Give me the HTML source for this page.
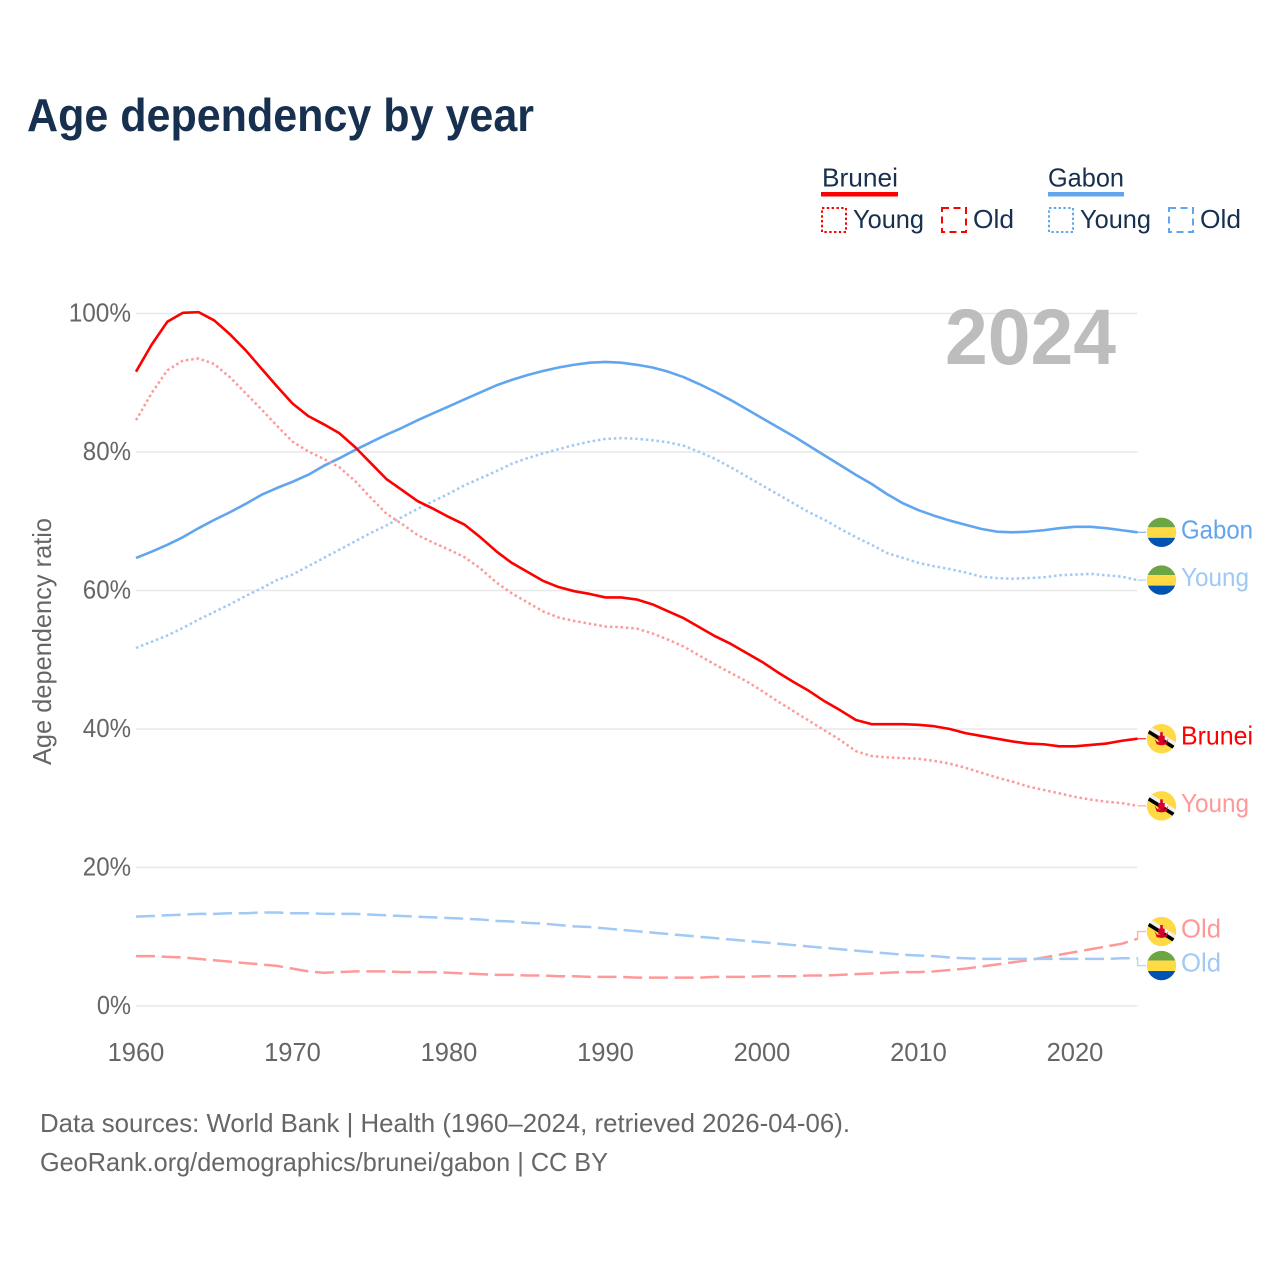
<!DOCTYPE html>
<html lang="en">
<head>
<meta charset="utf-8">
<title>Age dependency by year</title>
<style>
html,body{margin:0;padding:0;background:#fff;width:1280px;height:1280px;overflow:hidden}
svg{display:block}
text{font-family:"Liberation Sans",sans-serif}
</style>
</head>
<body>
<svg id="chart" xmlns="http://www.w3.org/2000/svg" width="1280" height="1280" viewBox="0 0 1280 1280">
  <defs>
    <clipPath id="flag-clip"><circle cx="0" cy="0" r="14.7"/></clipPath>
    <g id="flag-gabon" clip-path="url(#flag-clip)">
      <rect x="-16" y="-16" width="32" height="11" fill="#6da544"/>
      <rect x="-16" y="-5" width="32" height="10.5" fill="#ffda44"/>
      <rect x="-16" y="5.5" width="32" height="11" fill="#0052b4"/>
    </g>
    <g id="flag-brunei" clip-path="url(#flag-clip)">
      <rect x="-16" y="-16" width="32" height="32" fill="#ffda44"/>
      <line x1="-16" y1="-13" x2="16" y2="7" stroke="#f0f0f0" stroke-width="4"/>
      <line x1="-16" y1="-9" x2="16" y2="11" stroke="#000" stroke-width="3.6"/>
      <rect x="-1.3" y="-6.5" width="2.6" height="11" fill="#d80027"/>
      <rect x="-3.2" y="-3" width="6.4" height="6" fill="#d80027"/>
      <path d="M-7 -0.5 Q0 11 7 -0.5 L5 5 Q0 8 -5 5 Z" fill="#d80027"/>
      <rect x="-5" y="3.4" width="10" height="2.4" fill="#d80027"/>
    </g>
  </defs>

  <text x="27" y="131" font-size="46" font-weight="700" fill="#17304f" textLength="507" lengthAdjust="spacingAndGlyphs">Age dependency by year</text>

  <g font-size="26" fill="#17304f">
    <text x="822" y="186.5" textLength="76" lengthAdjust="spacingAndGlyphs">Brunei</text>
    <rect x="821" y="192" width="77" height="4.5" fill="#ff0000"/>
    <text x="1048" y="186.5" textLength="76" lengthAdjust="spacingAndGlyphs">Gabon</text>
    <rect x="1048" y="192" width="76" height="4.5" fill="#60a5ee"/>

    <rect x="822" y="208" width="24" height="24" fill="none" stroke="#ff0000" stroke-width="2" stroke-dasharray="2.4 2.4"/>
    <text x="853" y="228" textLength="71" lengthAdjust="spacingAndGlyphs">Young</text>
    <rect x="942" y="208" width="24" height="24" fill="none" stroke="#ff0000" stroke-width="2" stroke-dasharray="7 4.5"/>
    <text x="973" y="228" textLength="41" lengthAdjust="spacingAndGlyphs">Old</text>

    <rect x="1049" y="208" width="24" height="24" fill="none" stroke="#60a5ee" stroke-width="2" stroke-dasharray="2.4 2.4"/>
    <text x="1080" y="228" textLength="71" lengthAdjust="spacingAndGlyphs">Young</text>
    <rect x="1169" y="208" width="24" height="24" fill="none" stroke="#60a5ee" stroke-width="2" stroke-dasharray="7 4.5"/>
    <text x="1200" y="228" textLength="41" lengthAdjust="spacingAndGlyphs">Old</text>
  </g>

  <g id="grid"></g>
  <text x="945" y="364" font-size="79" font-weight="700" fill="#bdbdbd" textLength="171" lengthAdjust="spacingAndGlyphs">2024</text>
  <g id="y-ticks" font-size="25.5" fill="#666"></g>
  <g id="x-ticks" font-size="25.5" fill="#666"></g>
  <text transform="translate(51 765) rotate(-90)" font-size="26" fill="#666" textLength="247" lengthAdjust="spacingAndGlyphs">Age dependency ratio</text>
  <g id="series"></g>
  <g id="labels"></g>

  <text x="40" y="1132" font-size="26" fill="#666" textLength="810" lengthAdjust="spacingAndGlyphs">Data sources: World Bank | Health (1960–2024, retrieved 2026-04-06).</text>
  <text x="40" y="1171" font-size="26" fill="#666" textLength="568" lengthAdjust="spacingAndGlyphs">GeoRank.org/demographics/brunei/gabon | CC BY</text>
</svg>

<script>
const firstYear = 1960;
const xTickLabels = [1960, 1970, 1980, 1990, 2000, 2010, 2020];
const yTickLabels = [0, 20, 40, 60, 80, 100];

const bruneiTotal = [91.6,95.5,98.8,100.1,100.2,99,97,94.7,92.1,89.5,87,85.2,84,82.7,80.7,78.4,76.1,74.5,72.9,71.8,70.6,69.5,67.7,65.7,64,62.7,61.4,60.5,59.9,59.5,59,59,58.7,58,57,56,54.7,53.4,52.3,51,49.7,48.2,46.8,45.5,44,42.7,41.3,40.7,40.7,40.7,40.6,40.4,40,39.4,39,38.6,38.2,37.9,37.8,37.5,37.5,37.7,37.9,38.3,38.6];
const bruneiYoung = [84.6,88.5,91.8,93.2,93.5,92.7,90.8,88.5,86.2,83.8,81.5,80.1,79,77.8,75.8,73.4,71.1,69.6,68,66.9,65.9,64.8,63.2,61.2,59.6,58.3,57,56.1,55.6,55.2,54.8,54.7,54.5,53.8,52.9,51.9,50.6,49.3,48.1,46.9,45.5,44,42.6,41.2,39.8,38.4,36.8,36.1,35.9,35.8,35.7,35.4,35,34.4,33.7,33,32.4,31.7,31.2,30.7,30.2,29.8,29.5,29.3,28.9];
const bruneiOld = [7.2,7.2,7.1,7,6.8,6.6,6.4,6.2,6,5.8,5.4,5,4.8,4.9,5,5,5,4.9,4.9,4.9,4.8,4.7,4.6,4.5,4.5,4.4,4.4,4.3,4.3,4.2,4.2,4.2,4.1,4.1,4.1,4.1,4.1,4.2,4.2,4.2,4.3,4.3,4.3,4.4,4.4,4.5,4.6,4.7,4.8,4.9,4.9,5,5.2,5.4,5.7,6,6.3,6.6,7,7.4,7.8,8.2,8.6,9,9.7];
const gabonTotal = [64.7,65.6,66.6,67.7,69,70.2,71.3,72.5,73.8,74.8,75.7,76.7,78,79.1,80.3,81.4,82.5,83.5,84.6,85.6,86.6,87.6,88.6,89.6,90.4,91.1,91.7,92.2,92.6,92.9,93,92.9,92.6,92.2,91.6,90.8,89.8,88.7,87.5,86.2,84.9,83.6,82.3,80.9,79.5,78.1,76.7,75.4,73.9,72.6,71.6,70.8,70.1,69.5,68.9,68.5,68.4,68.5,68.7,69,69.2,69.2,69,68.7,68.4];
const gabonYoung = [51.7,52.6,53.5,54.6,55.8,56.9,58,59.2,60.3,61.5,62.3,63.5,64.7,65.9,67.1,68.3,69.4,70.6,71.8,72.9,74,75.2,76.2,77.2,78.3,79.1,79.8,80.4,81,81.5,81.9,82,81.9,81.7,81.4,80.9,80,79,77.8,76.5,75.2,73.9,72.6,71.3,70.2,68.9,67.7,66.6,65.4,64.7,64,63.5,63.1,62.6,62,61.8,61.7,61.8,61.9,62.2,62.3,62.4,62.2,62,61.5];
const gabonOld = [12.9,13,13.1,13.2,13.3,13.3,13.4,13.4,13.5,13.5,13.4,13.4,13.3,13.3,13.3,13.2,13.1,13,12.9,12.8,12.7,12.6,12.5,12.3,12.2,12,11.9,11.7,11.5,11.4,11.2,11,10.8,10.6,10.4,10.2,10,9.8,9.6,9.4,9.2,9,8.8,8.6,8.4,8.2,8,7.8,7.6,7.4,7.3,7.2,7,6.9,6.8,6.8,6.8,6.8,6.8,6.8,6.8,6.8,6.8,6.9,6.9];

const NS = 'http://www.w3.org/2000/svg';
const xScale = function (year) { return 136 + (year - 1960) * 15.65; };
const yScale = function (value) { return 1006 - value * 6.925; };

const RED = '#ff0000', RED_LIGHT = '#ff9999', BLUE = '#60a5ee', BLUE_LIGHT = '#a0c9f5';
const DOT = '2.5 2.85', DASH = '19 6.7';

const seriesList = [
  { name: 'gabon-total', label: 'Gabon', flag: 'gabon', values: gabonTotal, color: BLUE, dash: null, w: 2.6 },
  { name: 'gabon-young', label: 'Young', flag: 'gabon', values: gabonYoung, color: BLUE_LIGHT, dash: DOT, w: 2.5 },
  { name: 'brunei-total', label: 'Brunei', flag: 'brunei', values: bruneiTotal, color: RED, dash: null, w: 2.6 },
  { name: 'brunei-young', label: 'Young', flag: 'brunei', values: bruneiYoung, color: RED_LIGHT, dash: DOT, w: 2.5 },
  { name: 'brunei-old', label: 'Old', flag: 'brunei', values: bruneiOld, color: RED_LIGHT, dash: DASH, w: 2.5 },
  { name: 'gabon-old', label: 'Old', flag: 'gabon', values: gabonOld, color: BLUE_LIGHT, dash: DASH, w: 2.5 }
];

const labelWidths = { Gabon: 72, Young: 68, Brunei: 72, Old: 40 };

function make(tag, attrs) {
  const el = document.createElementNS(NS, tag);
  Object.keys(attrs).forEach(function (k) { el.setAttribute(k, attrs[k]); });
  return el;
}

const gridG = document.getElementById('grid');
const yTicksG = document.getElementById('y-ticks');
const xTicksG = document.getElementById('x-ticks');
const seriesG = document.getElementById('series');
const labelsG = document.getElementById('labels');
const xEnd = xScale(firstYear + bruneiTotal.length - 1);

yTickLabels.forEach(function (v) {
  const line = make('line', { x1: 136, x2: xEnd, y1: yScale(v), y2: yScale(v), stroke: '#e8e8e8', 'stroke-width': 1.5 });
  
  
  gridG.appendChild(line);
  const s = v + '%';
  const t = make('text', { x: 131 - ((s.length - 1) * 14.1 + 20), y: yScale(v) + 8, textLength: (s.length - 1) * 14.1 + 20, lengthAdjust: 'spacingAndGlyphs' });
  
  
  t.textContent = s;
  yTicksG.appendChild(t);
});

xTickLabels.forEach(function (y) {
  const t = make('text', { x: xScale(y), y: 1061, 'text-anchor': 'middle' });
  
  
  t.textContent = y;
  xTicksG.appendChild(t);
});

/* End labels sit on the final value; overlapping neighbours are pushed apart. */
const placed = seriesList.map(function (s) {
  const y = yScale(s.values[s.values.length - 1]);
  return { s: s, y: y, ly: y };
});
const sorted = placed.slice().sort(function (a, b) { return a.y - b.y; });
const MIN_GAP = 34;
for (let i = 1; i < sorted.length; i++) {
  const gap = sorted[i].ly - sorted[i - 1].ly;
  if (gap < MIN_GAP) {
    const push = (MIN_GAP - gap) / 2;
    sorted[i - 1].ly -= push;
    sorted[i].ly += push;
  }
}

placed.forEach(function (p) {
  const s = p.s;
  const d = s.values.map(function (v, i) {
    return (i ? 'L' : 'M') + xScale(firstYear + i).toFixed(2) + ' ' + yScale(v).toFixed(2);
  }).join('');
  const path = make('path', { d: d, fill: 'none', stroke: s.color, 'stroke-width': s.w, 'stroke-linejoin': 'round' });
  if (s.dash) { path.setAttribute('stroke-dasharray', s.dash); }
  
  
  seriesG.appendChild(path);

  const conn = make('path', {
    d: 'M' + xEnd + ' ' + p.y.toFixed(2) + 'V' + p.ly.toFixed(2) + 'H1146',
    fill: 'none', stroke: s.color, 'stroke-width': 1.4, opacity: 0.75
  });
  
  
  seriesG.appendChild(conn);

  const flag = make('use', { href: '#flag-' + s.flag, x: 1161.5, y: p.ly });
  
  
  labelsG.appendChild(flag);

  const t = make('text', { x: 1181, y: p.ly + 6, 'font-size': 26, fill: s.color, textLength: labelWidths[s.label], lengthAdjust: 'spacingAndGlyphs' });
  
  
  t.textContent = s.label;
  labelsG.appendChild(t);
});
</script>
</body>
</html>
